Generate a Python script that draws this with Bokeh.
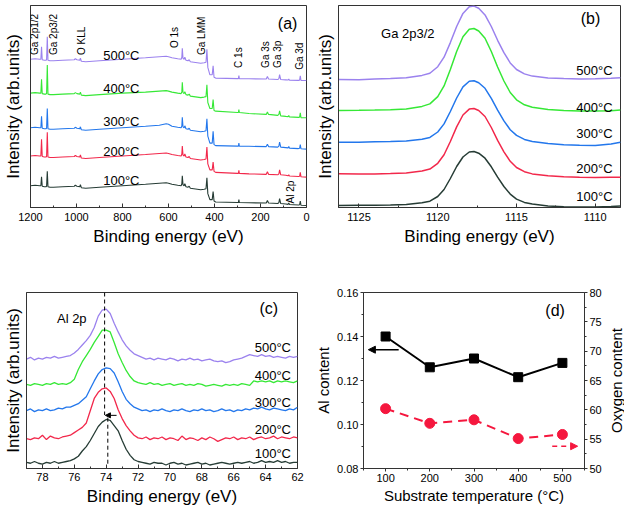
import numpy as np
from math import pi
from bokeh.plotting import figure
from bokeh.layouts import column, row
from bokeh.models import (Range1d, FixedTicker, LinearAxis, Label, Arrow, NormalHead,
                          PrintfTickFormatter)
from bokeh.embed import file_html
from bokeh.resources import INLINE

FONT = "Liberation Sans"
temp_labels = ["100°C", "200°C", "300°C", "400°C", "500°C"]
colors = ["#263c35", "#f2284b", "#2377ec", "#36e836", "#9b82ee"]

# ---------------- (a) survey spectra ----------------
survey_ev = [1200, 1180, 1160, 1155, 1152, 1149, 1140, 1133, 1130, 1127, 1124, 1115, 1100, 1060, 1010,
             1005, 998, 986, 983, 979, 960, 900, 800, 700, 640, 610, 600, 585, 560, 545,
             542, 540, 537, 532, 529, 524, 515, 510, 505, 490, 460, 445, 437, 433, 429,
             420, 410, 406, 402, 395, 300, 296, 294, 292, 250, 175, 170, 165, 125, 120,
             117, 112, 90, 80, 77, 74, 35, 30, 27, 24, 0]
survey_100 = [22, 22.5, 22, 22, 31, 21.5, 21, 21, 21.5, 36.5, 21, 20.5, 20.5, 21, 21.5,
              22.5, 21.5, 21, 23, 20, 19.5, 20.5, 22, 23.5, 24.5, 25, 24.5, 23.5, 22.5, 22,
              24, 32, 23, 22, 24, 21, 20.5, 21.5, 19.5, 19, 18, 18.5, 19, 30, 14,
              8, 8, 16, 6.5, 5.5, 5, 5, 8, 5, 4.8, 4.5, 7, 4.5, 4, 5,
              9, 4, 3.5, 3.2, 4.5, 3, 2.5, 2.8, 6.5, 2.3, 2]
survey_200 = [52, 52.5, 52, 52, 69, 51.5, 51, 51, 51.5, 76, 51, 50.5, 50.5, 51, 51.5,
              52.5, 51.5, 51, 53, 50, 49.5, 50.5, 52, 53.5, 54.5, 55, 54.5, 53.5, 52.5, 52,
              54, 62, 53, 52, 54, 51, 50.5, 51.5, 49.5, 49, 48, 48.5, 49, 61, 44,
              38, 38, 46, 36.5, 35.5, 34.5, 34.5, 37.5, 34.5, 34, 33.5, 36, 33.5, 33, 34,
              38, 33, 32.5, 32, 33, 31.8, 31.3, 31.5, 35.5, 31, 30.7]
survey_300 = [80.5, 81, 80.5, 80.5, 92, 80, 79.5, 79.5, 80, 100, 79.5, 79, 79, 79.5, 80,
              81, 80, 79.5, 81.5, 78.5, 78, 79, 80.5, 82, 83, 84.5, 84, 82, 81, 80.5,
              82.5, 91, 81.5, 80.5, 82.5, 79.5, 79, 80, 78, 77.5, 76.5, 77, 77.5, 89.5, 72,
              65, 65, 77, 63.5, 62.5, 62, 62, 65, 62, 61.8, 61.5, 64, 61.5, 61, 62,
              66, 61, 60.5, 60.2, 61.5, 60, 59.5, 59.8, 63.5, 59.3, 59]
survey_400 = [115.5, 116, 115.5, 115.5, 129.5, 115, 114.5, 114.5, 115, 144, 114.5, 114, 114, 114.5, 115,
              116, 115, 114.5, 116.5, 113.5, 113, 114, 115.5, 116.5, 117.5, 118, 117.5, 116.5, 115.5, 115,
              117, 126.5, 116, 115, 117, 114, 113.5, 114.5, 112.5, 112, 111, 111.5, 112, 124, 106,
              100, 100, 109, 98, 97.3, 96, 96, 99, 96, 95, 94, 96.5, 94, 93, 94,
              97.5, 92.5, 92, 91.8, 93, 91.5, 91, 91.2, 95.5, 90.8, 90.7]
survey_500 = [149.7, 150.2, 149.7, 149.7, 162.3, 149.2, 148.7, 148.7, 149.2, 172.3, 148.7, 148.2, 148.2, 148.7, 149.2,
              150.2, 149.2, 148.7, 150.7, 147.7, 147.2, 148.2, 149.7, 151.2, 152.2, 152.7, 152.2, 151.2, 150.2, 149.7,
              151.7, 160.7, 150.7, 149.7, 151.7, 148.7, 148.2, 149.2, 147.2, 146.7, 145.7, 146.2, 146.7, 159.7, 141.5,
              134, 134, 143, 131.5, 130.7, 130.2, 130.2, 133.2, 130.2, 130, 129.7, 132.2, 129.7, 129.2, 130.2,
              134.2, 129.2, 128.9, 128.7, 129.8, 128.6, 128.4, 128.6, 133, 128.3, 128.3]
survey_ticks = [0, 200, 400, 600, 800, 1000, 1200]

# ---------------- (b) Ga 2p3/2 ----------------
ga_ev = [1126.3, 1125, 1124, 1123, 1122, 1121, 1120.5, 1120, 1119.6, 1119.2, 1118.8, 1118.4, 1118.0, 1117.7, 1117.4,
         1117.0, 1116.6, 1116.2, 1115.8, 1115.4, 1115.0, 1114.5, 1114, 1113, 1112, 1111, 1110, 1109, 1108.4]
ga_100 = [2, 2.2, 2.3, 2.5, 3, 4.7, 6.3, 11, 18, 29, 41, 50.5, 55.5, 56, 54.3,
          49.3, 40.7, 30.3, 21, 13.4, 8.4, 5.1, 3.4, 1.5, 0.8, 0.5, 0.5, 1, 1.5]
ga_200 = [33.7, 33.5, 33.6, 34, 34.5, 36.5, 38.4, 44.2, 52.8, 66, 80.6, 92.5, 98.4, 99, 97,
          91, 80, 67.2, 55.7, 46.2, 40, 35.8, 33.6, 31.8, 30.8, 30.2, 30, 30.2, 30.3]
ga_300 = [65.3, 65.2, 65.7, 65.9, 66.4, 68.3, 70.1, 75.5, 83.6, 96, 109.5, 120.6, 126.2, 126.7, 124.8,
          119.2, 109.1, 97.3, 86.6, 77.8, 72.1, 68.1, 66.1, 63.9, 62.8, 62.2, 62, 63.5, 65.3]
ga_400 = [97, 97.2, 97.4, 97.8, 98.6, 101.1, 103.6, 110.9, 121.6, 138, 156, 170.8, 178.2, 179, 176.5,
          169.2, 156, 140.5, 126.5, 115, 107.7, 102.7, 100.2, 98, 97, 96.5, 96.5, 96.8, 97.5]
ga_500 = [128, 127.8, 128.4, 128.9, 129.8, 132.1, 134.2, 140.8, 150.3, 164.9, 181, 194.1, 200.7, 201.4, 199.2,
          192.6, 181, 167.2, 154.8, 144.6, 138, 133.6, 131.4, 129.6, 128.9, 128.6, 128.8, 129.3, 129.7]
ga_ticks = [1110, 1115, 1120, 1125]

# ---------------- (c) Al 2p ----------------
al_ev = list(np.arange(79.0, 61.99, -0.25))
al_100 = [7, 6, 8, 6, 5, 7, 6, 8, 6, 7, 8, 9, 11,
          14, 20, 25, 32, 40, 48, 53, 56,
          55, 49, 43, 32, 22, 15, 10, 8,
          7, 6, 5, 7, 6, 6, 4, 6, 7, 5, 6, 4, 5, 6, 7, 5, 6, 4, 5, 6,
          7, 6, 5, 6, 7, 6, 7, 8, 6, 7, 9, 7, 8, 7, 9, 7, 8, 6, 7, 7]
al_200 = [34, 33, 35, 34, 38, 33, 37, 35, 34, 36, 37, 38, 41,
          44, 47, 52, 66, 80, 87, 91, 92,
          88, 80, 67, 57, 49, 43, 38, 35,
          34, 36, 33, 35, 34, 36, 33, 35, 34, 32, 37, 33, 35, 34, 32, 35, 33, 36, 34, 31,
          33, 35, 34, 36, 33, 35, 34, 36, 33, 35, 36, 34, 35, 37, 34, 36, 35, 34, 36, 35]
al_300 = [66, 68, 65, 67, 66, 68, 66, 67, 69, 68, 70, 70, 72,
          74, 78, 82, 91, 100, 108, 113, 115,
          114, 109, 99, 88, 79, 74, 70, 68,
          66, 67, 65, 67, 66, 68, 66, 65, 67, 66, 68, 66, 65, 67, 66, 68, 66, 67, 65, 66,
          68, 66, 67, 65, 67, 66, 68, 67, 69, 68, 70, 68, 67, 69, 68, 67, 66, 68, 67, 70]
al_400 = [96, 95, 97, 96, 95, 97, 96, 98, 96, 97, 96, 98, 102,
          113, 122, 129, 136, 144, 151, 158, 158,
          156, 144, 131, 121, 112, 105, 100, 98,
          97, 96, 98, 96, 97, 95, 96, 97, 95, 96, 97, 95, 96, 95, 97, 96, 94, 95, 96, 95,
          94, 96, 95, 96, 95, 97, 96, 95, 100, 99, 100, 99, 100, 98, 100, 99, 100, 99, 98, 100]
al_500 = [125, 127, 124, 126, 125, 127, 126, 128, 126, 127, 128, 129, 132,
          136, 141, 146, 152, 161, 174, 181, 182,
          177, 166, 156, 147, 140, 135, 131, 129,
          127, 125, 126, 124, 126, 125, 124, 126, 125, 123, 125, 124, 126, 124, 125, 123, 124, 125, 123, 122,
          123, 121, 122, 124, 125, 126, 128, 130, 129, 128, 130, 128, 129, 127, 128, 127, 126, 128, 127, 128]
al_ticks = [62, 64, 66, 68, 70, 72, 74, 76, 78]

# ---------------- (d) contents ----------------
substrate_temp = [100, 200, 300, 400, 500]
al_content = [0.140, 0.126, 0.130, 0.1215, 0.128]
oxygen_content = [60.2, 57.7, 58.3, 55.1, 55.8]
al_content_ticks = [0.08, 0.10, 0.12, 0.14, 0.16]
oxygen_ticks = [50, 55, 60, 65, 70, 75, 80]
temp_ticks = [100, 200, 300, 400, 500]

AXC = "#333333"


def base_style(p, label_size="17px", tick_size="11px"):
    p.grid.grid_line_color = None
    p.outline_line_color = AXC
    p.outline_line_width = 1
    p.background_fill_color = "white"
    p.border_fill_color = "white"
    for ax in list(p.xaxis) + list(p.yaxis):
        ax.axis_label_text_font = FONT
        ax.axis_label_text_font_style = "normal"
        ax.axis_label_text_font_size = label_size
        ax.axis_label_text_color = "black"
        ax.major_label_text_font = FONT
        ax.major_label_text_font_size = tick_size
        ax.major_label_text_color = "black"
        ax.axis_line_color = AXC
        ax.major_tick_line_color = AXC
        ax.minor_tick_line_color = AXC


def hide_ticks(ax):
    ax.ticker = FixedTicker(ticks=[])
    ax.major_label_text_font_size = "0px"
    ax.major_label_standoff = 0
    ax.major_tick_out = 0
    ax.major_tick_in = 0
    ax.minor_tick_out = 0
    ax.minor_tick_in = 0


def spectrum_axes(p, ticks, minor, ylabel_standoff, tick_standoff=5):
    p.xaxis.ticker = FixedTicker(ticks=ticks, minor_ticks=minor)
    p.xaxis.major_tick_in = 4
    p.xaxis.major_tick_out = 0
    p.xaxis.minor_tick_in = 2
    p.xaxis.minor_tick_out = 0
    p.xaxis.major_label_standoff = tick_standoff
    p.xaxis.axis_label_standoff = 3
    p.xaxis.axis_label = "Binding energy (eV)"
    hide_ticks(p.yaxis[0])
    p.yaxis.axis_label = "Intensity (arb.units)"
    p.yaxis.axis_label_standoff = ylabel_standoff


def txt(p, x, y, s, size="13px", align="center", angle=0.0, baseline="middle"):
    p.add_layout(Label(x=x, y=y, text=s, text_font=FONT, text_font_size=size,
                       text_align=align, text_baseline=baseline, angle=angle,
                       text_color="black"))


# ---- panel (a)
pa = figure(width=312, height=260, x_range=Range1d(1200, 0), y_range=Range1d(0, 204),
            min_border_left=28, min_border_right=6, min_border_top=5, min_border_bottom=51,
            output_backend="svg", toolbar_location=None)
base_style(pa)
spectrum_axes(pa, survey_ticks, [100, 300, 500, 700, 900, 1100], 8)
for ys, c in zip([survey_100, survey_200, survey_300, survey_400, survey_500], colors):
    pa.line(survey_ev, ys, line_color=c, line_width=1.1)
for lab, y in zip(temp_labels, [27.3, 56.7, 87.3, 120.5, 154]):
    txt(pa, 805, y, lab)
peak_labels = [("Ga 2p1/2", 1181, 154), ("Ga 2p3/2", 1098, 154), ("O KLL", 978, 154),
               ("O 1s", 575, 161), ("Ga LMM", 457, 154), ("C 1s", 296, 141),
               ("Ga 3s", 180, 141), ("Ga 3p", 126, 141), ("Ga 3d", 30, 139), ("Al 2p", 69, 4)]
for s, x, y in peak_labels:
    txt(pa, x, y, s, size="10px", align="left", angle=pi / 2)
txt(pa, 82, 186, "(a)", size="16px")

# ---- panel (b)
pb = figure(width=312, height=260, x_range=Range1d(1126.3, 1108.4), y_range=Range1d(0, 202),
            min_border_left=23, min_border_right=4, min_border_top=5, min_border_bottom=53,
            output_backend="svg", toolbar_location=None)
base_style(pb)
spectrum_axes(pb, ga_ticks, [1112.5, 1117.5, 1122.5], 4)
for ys, c in zip([ga_100, ga_200, ga_300, ga_400, ga_500], colors):
    pb.line(ga_ev, ys, line_color=c, line_width=1.5)
for lab, y in zip(temp_labels, [11, 39, 74, 100, 137]):
    txt(pb, 1108.9, y, lab, align="right")
txt(pb, 1121.9, 174, "Ga 2p3/2")
txt(pb, 1110.3, 189, "(b)", size="16px")

# ---- panel (c)
pc = figure(width=312, height=248, x_range=Range1d(79, 62), y_range=Range1d(0, 201),
            min_border_left=22, min_border_right=15, min_border_top=8, min_border_bottom=39,
            output_backend="svg", toolbar_location=None)
base_style(pc)
spectrum_axes(pc, al_ticks, [63, 65, 67, 69, 71, 73, 75, 77, 79], 4, tick_standoff=4)
for ys, c in zip([al_100, al_200, al_300, al_400, al_500], colors):
    pc.line(al_ev, ys, line_color=c, line_width=1.3)
pc.segment(x0=[74.1, 73.9], y0=[201, 58], x1=[74.1, 73.9], y1=[61, 2],
           line_color="black", line_width=1, line_dash="4 3")
pc.add_layout(Arrow(end=NormalHead(size=5, fill_color="black", line_color="black"),
                    x_start=73.35, y_start=60.7, x_end=74.05, y_end=60.7,
                    line_color="black", line_width=1))
for lab, y in zip(temp_labels, [17.3, 44, 75.7, 105.7, 138]):
    txt(pc, 62.41, y, lab, align="right")
txt(pc, 76.16, 171, "Al 2p")
txt(pc, 63.8, 182.3, "(c)", size="16px")

# ---- panel (d)
pd = figure(width=292, height=248, x_range=Range1d(50, 550), y_range=Range1d(0.08, 0.16),
            min_border_left=48, min_border_right=18, min_border_top=32, min_border_bottom=37,
            output_backend="svg", toolbar_location=None)
pd.extra_y_ranges = {"oxy": Range1d(50, 80)}
right_axis = LinearAxis(y_range_name="oxy")
pd.add_layout(right_axis, "right")
base_style(pd, label_size="15px", tick_size="11px")
pd.xaxis.ticker = FixedTicker(ticks=temp_ticks, minor_ticks=[50, 150, 250, 350, 450, 550])
pd.xaxis.axis_label = "Substrate temperature (°C)"
pd.yaxis[0].ticker = FixedTicker(ticks=al_content_ticks, minor_ticks=[0.09, 0.11, 0.13, 0.15])
pd.yaxis[0].formatter = PrintfTickFormatter(format="%.2f")
pd.yaxis[0].axis_label = "Al content"
pd.yaxis[1].ticker = FixedTicker(ticks=oxygen_ticks,
                                 minor_ticks=[52.5, 57.5, 62.5, 67.5, 72.5, 77.5])
for ax in list(pd.xaxis) + list(pd.yaxis):
    ax.major_tick_out = 3
    ax.major_tick_in = 0
    ax.minor_tick_out = 2
    ax.minor_tick_in = 0
    ax.major_label_standoff = 2
    ax.axis_label_standoff = 2
right_axis.axis_label_standoff = 0
RED = "#f5173e"
pd.line(substrate_temp, al_content, line_color="black", line_width=2)
pd.scatter(substrate_temp, al_content, marker="square", size=9, fill_color="black",
           line_color="black")
pd.line(substrate_temp, oxygen_content, line_color=RED, line_width=2, line_dash="9 6",
        y_range_name="oxy")
pd.scatter(substrate_temp, oxygen_content, marker="circle", size=10, fill_color=RED,
           line_color=RED, y_range_name="oxy")
pd.add_layout(Arrow(end=NormalHead(size=7, fill_color="black", line_color="black"),
                    x_start=129.6, y_start=0.134, x_end=61, y_end=0.134,
                    line_color="black", line_width=1.5))
pd.add_layout(Arrow(end=NormalHead(size=7, fill_color=RED, line_color=RED),
                    x_start=477, y_start=53.8, x_end=534.5, y_end=53.8, y_range_name="oxy",
                    line_color=RED, line_width=1.5, line_dash="5 4"))
txt(pd, 483.6, 0.1516, "(d)", size="16px")

# title strip for the oxygen axis (reads bottom-to-top, centred on the (d) frame)
pox = figure(width=20, height=248, x_range=Range1d(0, 1), y_range=Range1d(50, 80),
             min_border_left=19, min_border_right=0, min_border_top=32, min_border_bottom=37,
             output_backend="svg", toolbar_location=None)
base_style(pox, label_size="15px")
pox.outline_line_color = None
pox.xaxis.visible = False
hide_ticks(pox.yaxis[0])
pox.yaxis.axis_line_color = None
pox.yaxis.axis_label = "Oxygen content"
pox.yaxis.axis_label_standoff = 0

layout = column(row(pa, pb), row(pc, pd, pox))
open("out.html", "w").write(file_html(layout, INLINE))
